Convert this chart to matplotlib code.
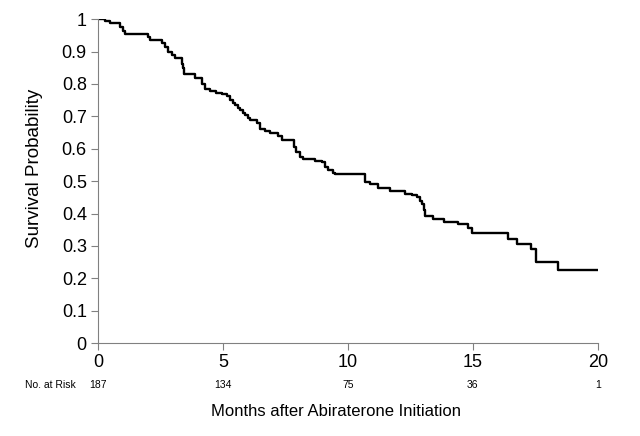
import numpy as np
import matplotlib.pyplot as plt

plt.rcParams['font.family'] = ['Liberation Sans', 'DejaVu Sans']

# Kaplan-Meier steps (months, survival after the drop)
months = [0, 0.28, 0.48, 0.9, 1.0, 1.08, 2.0, 2.08, 2.56, 2.68, 2.8, 2.96,
          3.08, 3.36, 3.4, 3.44, 3.88, 4.16, 4.28, 4.48, 4.72, 4.96, 5.16,
          5.28, 5.4, 5.48, 5.6, 5.68, 5.8, 5.88, 6.0, 6.08, 6.36, 6.48, 6.68,
          6.88, 7.2, 7.36, 7.84, 7.92, 8.08, 8.2, 8.68, 8.96, 9.08, 9.2, 9.4,
          9.48, 10.68, 10.88, 11.2, 11.68, 12.28, 12.56, 12.76, 12.88, 12.96,
          13.04, 13.08, 13.4, 13.84, 14.4, 14.8, 14.96, 16.4, 16.76, 17.32,
          17.52, 18.4, 20]
survival = [1.0, 0.994, 0.987, 0.976, 0.965, 0.954, 0.945, 0.935, 0.925,
            0.915, 0.900, 0.889, 0.879, 0.863, 0.848, 0.832, 0.817, 0.800,
            0.786, 0.779, 0.773, 0.768, 0.762, 0.750, 0.742, 0.734, 0.727,
            0.719, 0.711, 0.704, 0.696, 0.688, 0.678, 0.660, 0.655, 0.649,
            0.640, 0.627, 0.606, 0.590, 0.575, 0.569, 0.563, 0.558, 0.545,
            0.535, 0.525, 0.522, 0.498, 0.490, 0.480, 0.470, 0.460, 0.457,
            0.450, 0.440, 0.430, 0.410, 0.393, 0.383, 0.374, 0.367, 0.355,
            0.339, 0.321, 0.306, 0.290, 0.250, 0.225, 0.225]

risk_months = [0, 5, 10, 15, 20]
at_risk = [187, 134, 75, 36, 1]

fig = plt.figure(figsize=(6.4, 4.36), dpi=100)
ax = fig.add_axes([0.153, 0.213, 0.781, 0.743])

ax.plot(months, survival, drawstyle='steps-post', color='black', lw=1.7)

ax.set_xlim(0, 20)
ax.set_ylim(0, 1)
ax.set_xticks(risk_months)
ax.set_yticks(np.arange(0, 1.01, 0.1))
ax.set_yticklabels(['0', '0.1', '0.2', '0.3', '0.4', '0.5', '0.6', '0.7',
                    '0.8', '0.9', '1'])

for side in ['top', 'right']:
    ax.spines[side].set_visible(False)
for side in ['left', 'bottom']:
    ax.spines[side].set_color('#808080')
ax.tick_params(direction='out', length=5, color='#808080', labelsize=13,
               pad=3)

ax.set_ylabel('Survival Probability', fontsize=13.5)
ax.yaxis.set_label_coords(-0.11, 0.54)

# number at risk row
fig.text(0.078, 1 - 385 / 436, 'No. at Risk', fontsize=7.5,
         ha='center', va='center')
for m, n in zip(risk_months, at_risk):
    ax.annotate(str(n), xy=(m, 0), xycoords='data',
                xytext=(0, -30), textcoords='offset points',
                fontsize=7.5, ha='center', va='center')

fig.text(336 / 640, 1 - 411 / 436, 'Months after Abiraterone Initiation',
         fontsize=12, ha='center', va='center')

fig.savefig('out.png', dpi=100)
